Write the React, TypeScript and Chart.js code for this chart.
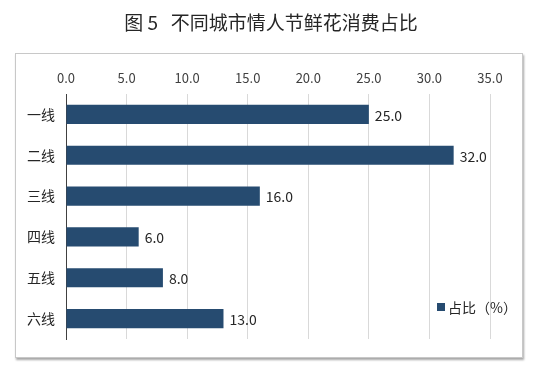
import React, { useEffect, useRef } from "react";
import { Chart, registerables } from "chart.js";

Chart.register(...registerables);

const titleText = "图 5   不同城市情人节鲜花消费占比";
const categories = ["一线", "二线", "三线", "四线", "五线", "六线"];
const seriesLabel = "占比（%）";
const shares = [25.0, 32.0, 16.0, 6.0, 8.0, 13.0];
const xMin = 0;
const xMax = 35;
const xStep = 5;

const FONT = "'Noto Sans CJK SC', 'Noto Sans', sans-serif";
const BAR_COLOR = "#264b70";

const framePlugin = {
  id: "frame",
  beforeDraw(chart: any) {
    const ctx = chart.ctx;
    ctx.save();
    ctx.fillStyle = "#ffffff";
    ctx.fillRect(0, 0, chart.width, chart.height);
    const a = chart.chartArea;
    const x0 = a.left - 51;
    const y0 = a.top - 41;
    const x1 = a.right + 33;
    const y1 = a.bottom + 19;
    ctx.shadowColor = "rgba(0,0,0,0.35)";
    ctx.shadowOffsetX = 1;
    ctx.shadowOffsetY = 1.5;
    ctx.shadowBlur = 2;
    ctx.fillStyle = "#ffffff";
    ctx.fillRect(x0, y0, x1 - x0, y1 - y0);
    ctx.shadowColor = "transparent";
    ctx.strokeStyle = "#c8c8c8";
    ctx.lineWidth = 1;
    ctx.strokeRect(x0 + 0.5, y0 + 0.5, x1 - x0 - 1, y1 - y0 - 1);
    // title centred on the whole canvas
    ctx.font = `19px ${FONT}`;
    ctx.fillStyle = "#262626";
    ctx.textAlign = "center";
    ctx.textBaseline = "middle";
    ctx.fillText(titleText, chart.width / 2 + 1, 23);
    ctx.restore();
  },
};

const valueLabelPlugin = {
  id: "valueLabels",
  afterDatasetsDraw(chart: any) {
    const ctx = chart.ctx;
    ctx.save();
    ctx.font = `14px ${FONT}`;
    ctx.fillStyle = "#262626";
    ctx.textAlign = "left";
    ctx.textBaseline = "middle";
    chart.data.datasets.forEach((ds: any, di: number) => {
      const meta = chart.getDatasetMeta(di);
      meta.data.forEach((el: any, i: number) => {
        const v = ds.data[i];
        ctx.fillText(Number(v).toFixed(1), el.x + 6, el.y + 1);
      });
    });
    ctx.restore();
  },
};

const insideLegendPlugin = {
  id: "insideLegend",
  afterDraw(chart: any) {
    const ctx = chart.ctx;
    const a = chart.chartArea;
    const ds = chart.data.datasets[0];
    const x = a.right - 53;
    const y = a.bottom - 32;
    ctx.save();
    ctx.fillStyle = ds.backgroundColor;
    ctx.fillRect(x, y - 4, 8, 8);
    ctx.font = `14px ${FONT}`;
    ctx.fillStyle = "#262626";
    ctx.textAlign = "left";
    ctx.textBaseline = "middle";
    ctx.fillText(ds.label, x + 11, y + 1);
    ctx.restore();
  },
};

export default function App() {
  const canvasRef = useRef<HTMLCanvasElement | null>(null);

  useEffect(() => {
    if (!canvasRef.current) return;
    const chart = new Chart(canvasRef.current, {
      type: "bar",
      data: {
        labels: categories,
        datasets: [
          {
            label: seriesLabel,
            data: shares,
            backgroundColor: BAR_COLOR,
            borderWidth: 0,
            barPercentage: 1,
            categoryPercentage: 0.47,
          },
        ],
      },
      options: {
        indexAxis: "y",
        responsive: false,
        animation: false,
        layout: { padding: { left: 15, right: 50, top: 53, bottom: 34 } },
        plugins: {
          legend: { display: false },
          tooltip: { enabled: false },
          title: { display: false },
        },
        scales: {
          x: {
            position: "top",
            min: xMin,
            max: xMax,
            border: { display: false },
            grid: { color: "#d9d9d9", drawTicks: false, lineWidth: 1 },
            ticks: {
              stepSize: xStep,
              padding: 8,
              color: "#404040",
              font: { family: FONT, size: 13 },
              callback: (v: any) => Number(v).toFixed(1),
            },
            afterFit: (scale: any) => {
              scale.height = 41;
            },
          },
          y: {
            border: { display: true, color: "#404040", width: 1 },
            grid: { display: false, drawTicks: false },
            ticks: {
              padding: 11,
              color: "#262626",
              font: { family: FONT, size: 14 },
            },
            afterFit: (scale: any) => {
              scale.width = 51;
            },
          },
        },
      },
      plugins: [framePlugin, valueLabelPlugin, insideLegendPlugin],
    });
    return () => chart.destroy();
  }, []);

  return (
    <div style={{ position: "absolute", left: 0, top: 0, width: 540, height: 373, background: "#fff" }}>
      <canvas ref={canvasRef} width={540} height={373} />
    </div>
  );
}
